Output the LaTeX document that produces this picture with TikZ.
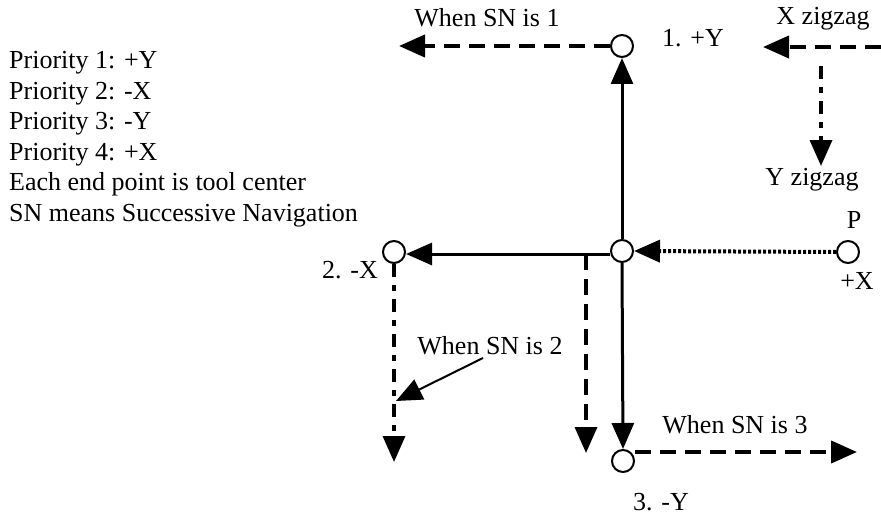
\documentclass[tikz,border=0pt]{standalone}
\usepackage{fontspec}
\setmainfont{Liberation Serif}
\usetikzlibrary{arrows.meta}
\begin{document}
\begin{tikzpicture}[x=1pt,y=-1pt,
  pt/.style={circle,draw,line width=2pt,minimum size=22pt,inner sep=0pt},
  lbl/.style={font=\fontsize{26}{30.6}\selectfont,inner sep=0pt},
  tip/.style={-{Triangle[length=26pt,width=22pt]}},
  solidln/.style={tip,line width=3pt},
  dashln/.style={tip,line width=4pt,dash pattern=on 16pt off 9pt},
  dashdotln/.style={tip,line width=3.5pt,dash pattern=on 13pt off 8pt on 6pt off 8pt},
  dotln/.style={tip,line width=4pt,dash pattern=on 3pt off 2pt}]
\useasboundingbox (0,0) rectangle (881,519);
% points
\node[pt] (top) at (622,46) {};
\node[pt] (c) at (622,251) {};
\node[pt] (l) at (394,252) {};
\node[pt] (p) at (848,252) {};
\node[pt] (b) at (623,461) {};
% legend
\node[lbl,anchor=north west,align=left] (legend) at (9,51) {Priority 1: +Y\\Priority 2: -X\\Priority 3: -Y\\Priority 4: +X\\Each end point is tool center\\SN means Successive Navigation};
% labels
\node[lbl] (sn1) at (487,18) {When SN is 1};
\node[lbl] (ly) at (693,38) {1. +Y};
\node[lbl] (xz) at (823,19) {X zigzag};
\node[lbl] (yz) at (812,180) {Y zigzag};
\node[lbl] (lp) at (854,220) {P};
\node[lbl] (lpx) at (857,281) {+X};
\node[lbl] (lx) at (350,270) {2. -X};
\node[lbl] (sn2) at (490,346) {When SN is 2};
\node[lbl] (sn3) at (735,425) {When SN is 3};
\node[lbl] (lb) at (661,502) {3. -Y};
% coordinates
\coordinate (e1) at (399,46);
\coordinate (xs) at (881,47);
\coordinate (xe) at (763,47);
\coordinate (ys) at (821,66);
\coordinate (ye) at (821,166);
\coordinate (hm) at (586,254);
\coordinate (hme) at (586,453);
\coordinate (le) at (394,462);
\coordinate (sn2s) at (483,358);
\coordinate (sn2e) at (396,401);
\coordinate (e3) at (857,452);
% connectors
\draw[dashln] (top.west) -- (e1);
\draw[solidln] (c.north) -- (top.south);
\draw[dashln] (xs) -- (xe);
\draw[dashdotln] (ys) -- (ye);
\draw[solidln] (c.west |- 0,254) -- (l.east |- 0,254);
\draw[dotln] (p.west) -- (c.east);
\draw[dashln,line width=3.5pt] (hm) -- (hme);
\draw[dashdotln] (l.south) -- (le);
\draw[tip,line width=2pt] (sn2s) -- (sn2e);
\draw[solidln] (c.south) -- (b.north);
\draw[dashln] (b.east |- 0,452) -- (e3);
\end{tikzpicture}
\end{document}
